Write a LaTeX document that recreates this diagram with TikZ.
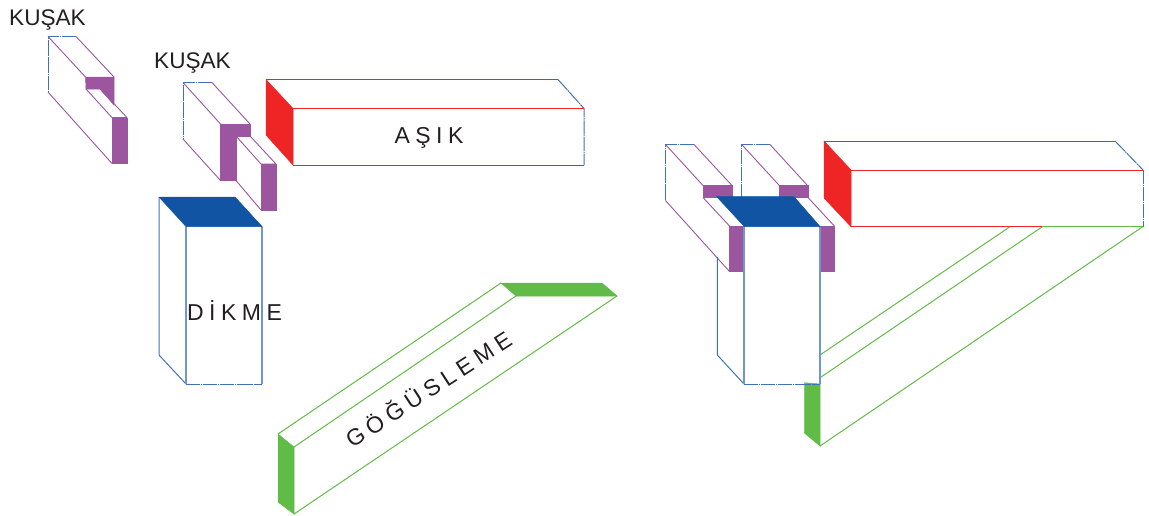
\documentclass[tikz,border=0pt]{standalone}
\usepackage{fontspec}
\setmainfont{Liberation Sans}
\definecolor{cpur}{HTML}{9C559F}
\definecolor{cblu}{HTML}{1254A4}
\definecolor{cbll}{HTML}{3F72BA}
\definecolor{cbpl}{HTML}{6F97CC}
\definecolor{cred}{HTML}{EE2524}
\definecolor{cgre}{HTML}{60BC46}
\definecolor{ctxt}{HTML}{231F20}
\tikzset{
  pl/.style={draw=cpur,line width=0.9pt,line join=round},
  pf/.style={fill=cpur,draw=cpur,line width=0.5pt},
  bl/.style={draw=cbll,line width=1pt},
  bp/.style={draw=cbpl,line width=1.2pt},
  bd/.style={draw=cbll,line width=1pt,dash pattern=on 14pt off 0.7pt on 1.5pt off 0.7pt},
  bf/.style={fill=cblu,draw=cblu,line width=0.5pt},
  rl/.style={draw=cred,line width=1pt},
  rf/.style={fill=cred,draw=cred,line width=0.5pt},
  gl/.style={draw=cgre,line width=1pt},
  gf/.style={fill=cgre,draw=cgre,line width=0.5pt},
  lab/.style={text=ctxt,font=\fontsize{22.6}{24}\selectfont,inner sep=0pt},
  spaced/.style={text=ctxt,font=\fontsize{23}{24}\selectfont\addfontfeature{LetterSpace=24},inner sep=0pt,anchor=base},
}
\begin{document}
\begin{tikzpicture}[x=1pt,y=-1pt]
\useasboundingbox (0,0) rectangle (1149,515);
% left kusak
\draw[bd] (76,36.5)--(48,36.5)--(48,92);
\draw[pl] (48,36.5)--(85.5,77);
\draw[pl] (76,36.5)--(114,77);
\draw[pl] (48,92)--(112,163.5);
\filldraw[pf] (85.5,77)--(114,77)--(114,105)--(100,89)--(86,89)--cycle;
\draw[pl] (86,89)--(112,117.5)--(127,117.5)--(100,89);
\filldraw[pf] (112,118)--(127,118)--(127,163.5)--(112,163.5)--cycle;
% second kusak
\draw[bd] (212,82.5)--(183,82.5)--(183,139);
\draw[pl] (183,82.5)--(220.5,124);
\draw[pl] (212,82.5)--(250,124);
\draw[pl] (183,139)--(220.5,180.5);
\filldraw[pf] (220.5,124)--(250,124)--(250,136)--(236,136)--(236,180.5)--(220.5,180.5)--cycle;
\draw[pl] (236,136)--(261,164)--(276,164)--(250,136);
\draw[pl] (236,180.5)--(261,210);
\filldraw[pf] (261,164)--(276,164)--(276,210)--(261,210)--cycle;
% asik
\draw[rl] (266,79.5)--(558,79.5);
\draw[bd] (558,79.5)--(584,108.5)--(584,165);
\draw[rl] (293,108.5)--(584,108.5);
\draw[rl] (293,165)--(584,165);
\filldraw[rf] (266,79.5)--(293,108.5)--(293,165)--(266,135)--cycle;
\node[spaced] (asik) at (429,143.3) {AŞIK};
% dikme
\draw[bl] (159,197)--(159,355)--(186,384);
\draw[bd] (186,384)--(262,384);
\draw[bp] (262,384)--(262,226.5);
\draw[bp] (186,226.5)--(186,384);
\filldraw[bf] (159,197)--(235,197)--(262,226.5)--(186,226.5)--cycle;
\node[spaced] (dikme) at (234.5,320) {DİKME};
% gogusleme
\draw[gl] (278,434)--(501,283);
\draw[gl] (294,447)--(516,296);
\draw[gl] (294,514)--(617,296);
\filldraw[gf] (278,434)--(294,447)--(294,514)--(278,502)--cycle;
\filldraw[gf] (501,283)--(602,283)--(617,296)--(516,296)--cycle;
\node[spaced,rotate=33] (gog) at (433,396.5) {GÖĞÜSLEME};
% labels
\node[lab,anchor=base west] (k1) at (9,25) {KUŞAK};
\node[lab,anchor=base west] (k2) at (154,68) {KUŞAK};
% right assembly: left kusak
\draw[bd] (694,144.5)--(665.5,144.5)--(665.5,200.5);
\draw[pl] (665.5,144.5)--(703,185.5);
\draw[pl] (694,144.5)--(732,185.5);
\draw[pl] (665.5,200.5)--(729.5,271.5);
\draw[pl] (703,197.5)--(729.5,226);
\filldraw[pf] (703,185.5)--(732,185.5)--(732,197.5)--(703,197.5)--cycle;
\filldraw[pf] (729.5,226)--(744,226)--(744,271.5)--(729.5,271.5)--cycle;
% right assembly: second kusak
\draw[bd] (770,144.5)--(741.7,144.5)--(741.7,196.7);
\draw[pl] (741.7,144.5)--(779.3,185.5);
\draw[pl] (770,144.5)--(807.5,185.5);
\draw[pl] (808,197.5)--(834.3,226);
\filldraw[pf] (779.3,185.5)--(808,185.5)--(808,197.5)--(779.3,197.5)--cycle;
\filldraw[pf] (820,226)--(834.3,226)--(834.3,271.7)--(820,271.7)--cycle;
% right assembly: green brace
\draw[gl] (820,355)--(1010,226.7);
\draw[gl] (820,377.7)--(1042.3,226.7);
\draw[gl] (820,446)--(1142.7,226.7);
\draw[gl] (1042.3,226.7)--(1142.7,226.7);
\filldraw[gf] (804.7,382.7)--(820,384)--(820,446)--(804.7,433.3)--cycle;
\draw[gl] (820,377.7)--(820,384);
% right assembly: post
\draw[bl] (717.3,257)--(717.3,355)--(744,384);
\draw[bd] (744,384)--(820,384);
\draw[bp] (820,384)--(820,226.5);
\draw[bp] (744,226.5)--(744,384);
\filldraw[bf] (716.7,196.7)--(794,196.7)--(820,226.5)--(744.3,226.5)--cycle;
% right assembly: beam
\draw[rl] (824,141)--(1115,141);
\draw[bd] (1115,141)--(1143,170);
\draw[rl] (851,170)--(1143,170);
\draw[rl] (851,226.7)--(1042.3,226.7);
\draw[bd] (1143,170)--(1143,226.7);
\filldraw[rf] (824,141)--(851,170)--(851,226.7)--(824,198)--cycle;
\end{tikzpicture}
\end{document}
